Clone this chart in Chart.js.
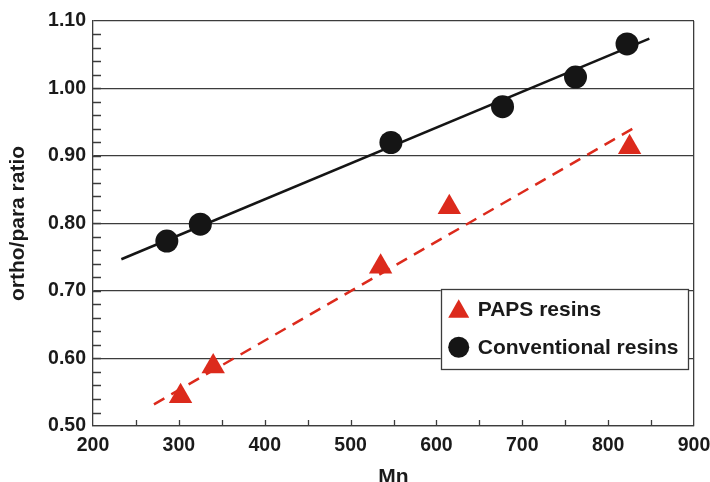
<!DOCTYPE html>
<html>
<head>
<meta charset="utf-8">
<script src="https://cdn.jsdelivr.net/npm/chart.js@4/dist/chart.umd.min.js"></script>
<style>
  html, body { margin: 0; padding: 0; background: #fff; }
  #wrap { width: 710px; height: 482px; }
</style>
</head>
<body>
<div id="wrap"><canvas id="ratioChart"></canvas></div>
<script>
// conventional resins (circles)
var convMn = [286, 325, 547, 677, 762, 822];
var convRatio = [0.774, 0.799, 0.920, 0.973, 1.017, 1.066];
// PAPS resins (triangles)
var papsMn = [302, 340, 535, 615, 825];
var papsRatio = [0.544, 0.588, 0.736, 0.824, 0.913];
// fitted lines, end points
var convFitMn = [233, 848];
var convFitRatio = [0.747, 1.074];
var papsFitMn = [271, 832];
var papsFitRatio = [0.532, 0.943];

var labels = ['PAPS resins', 'Conventional resins'];
var axisColor = '#3c3c3c';
var red = '#dc2a1c';
var black = '#151515';
var font = "'Liberation Sans', Arial, Helvetica, sans-serif";

function toPoints(xs, ys) {
  return xs.map(function (x, i) { return { x: x, y: ys[i] }; });
}

// small inward ticks on left and bottom axes
var innerTicks = {
  id: 'innerTicks',
  beforeDatasetsDraw: function (chart) {
    var ctx = chart.ctx, xs = chart.scales.x, ys = chart.scales.y;
    var a = chart.chartArea;
    ctx.save();
    ctx.strokeStyle = axisColor;
    ctx.lineWidth = 1.3;
    ctx.beginPath();
    for (var v = 0.52; v < 1.1; v += 0.02) {
      var py = Math.round(ys.getPixelForValue(v)) + 0.5;
      ctx.moveTo(a.left, py);
      ctx.lineTo(a.left + 8, py);
    }
    for (var m = 250; m < 900; m += 50) {
      var px = Math.round(xs.getPixelForValue(m)) + 0.5;
      ctx.moveTo(px, a.bottom);
      ctx.lineTo(px, a.bottom - 6);
    }
    ctx.stroke();
    ctx.restore();
  }
};

// legend box sitting inside the plot
var boxLegend = {
  id: 'boxLegend',
  afterDraw: function (chart) {
    var ctx = chart.ctx, xs = chart.scales.x, ys = chart.scales.y;
    var left = xs.getPixelForValue(605), right = xs.getPixelForValue(893);
    var top = ys.getPixelForValue(0.703), bottom = ys.getPixelForValue(0.5844);
    ctx.save();
    ctx.fillStyle = '#fff';
    ctx.fillRect(left, top, right - left, bottom - top);
    ctx.strokeStyle = axisColor;
    ctx.lineWidth = 1.3;
    ctx.strokeRect(Math.round(left) + 0.5, Math.round(top) + 0.5, Math.round(right - left), Math.round(bottom - top));

    var mx = left + 18;
    var y1 = top + 20.7, y2 = top + 58.3;
    // triangle
    ctx.fillStyle = red;
    ctx.beginPath();
    ctx.moveTo(mx, y1 - 10.5);
    ctx.lineTo(mx + 10.5, y1 + 8);
    ctx.lineTo(mx - 10.5, y1 + 8);
    ctx.closePath();
    ctx.fill();
    // circle
    ctx.fillStyle = black;
    ctx.beginPath();
    ctx.arc(mx, y2, 10.5, 0, Math.PI * 2);
    ctx.fill();

    ctx.fillStyle = '#1a1a1a';
    ctx.font = 'bold 21px ' + font;
    ctx.textBaseline = 'middle';
    ctx.textAlign = 'left';
    ctx.fillText(labels[0], left + 37, y1 + 1);
    ctx.fillText(labels[1], left + 37, y2 + 1);
    ctx.restore();
  }
};

var chart = new Chart(document.getElementById('ratioChart'), {
  type: 'scatter',
  data: {
    datasets: [
      {
        label: 'conv fit',
        data: toPoints(convFitMn, convFitRatio),
        showLine: true,
        borderColor: black,
        borderWidth: 2.5,
        pointRadius: 0,
        order: 4
      },
      {
        label: 'paps fit',
        data: toPoints(papsFitMn, papsFitRatio),
        showLine: true,
        borderColor: red,
        borderWidth: 2.5,
        borderDash: [12, 8],
        pointRadius: 0,
        order: 3
      },
      {
        label: labels[1],
        data: toPoints(convMn, convRatio),
        pointStyle: 'circle',
        pointRadius: 11.5,
        backgroundColor: black,
        borderColor: black,
        borderWidth: 0,
        order: 2
      },
      {
        label: labels[0],
        data: toPoints(papsMn, papsRatio),
        pointStyle: 'triangle',
        pointRadius: 13.5,
        backgroundColor: red,
        borderColor: red,
        borderWidth: 0,
        order: 1
      }
    ]
  },
  options: {
    responsive: true,
    maintainAspectRatio: false,
    animation: false,
    events: [],
    layout: { padding: { top: 21, right: 16, bottom: 0, left: 0 } },
    plugins: {
      legend: { display: false },
      tooltip: { enabled: false }
    },
    scales: {
      x: {
        type: 'linear',
        min: 200,
        max: 900,
        afterFit: function (s) {
          s.height = 56;
          s.paddingLeft = 0;
          s.paddingRight = 0;
        },
        ticks: {
          stepSize: 100,
          padding: 8,
          color: '#1a1a1a',
          font: { family: font, size: 19.5, weight: 'bold' }
        },
        grid: {
          drawTicks: false,
          color: function (c) { return c.tick && c.tick.value === 900 ? axisColor : 'rgba(0,0,0,0)'; },
          lineWidth: 1.3
        },
        border: { display: true, color: axisColor, width: 1.3 },
        title: {
          display: true,
          text: 'Mn',
          color: '#1a1a1a',
          font: { family: font, size: 21, weight: 'bold', lineHeight: 0.5 },
          padding: 0
        }
      },
      y: {
        type: 'linear',
        min: 0.5,
        max: 1.1,
        afterFit: function (s) { s.width = 93; },
        ticks: {
          stepSize: 0.1,
          padding: 7,
          color: '#1a1a1a',
          font: { family: font, size: 19.5, weight: 'bold' },
          callback: function (v) { return v.toFixed(2); }
        },
        grid: {
          drawTicks: false,
          color: axisColor,
          lineWidth: 1.3
        },
        border: { display: true, color: axisColor, width: 1.3 },
        title: {
          display: true,
          text: 'ortho/para ratio',
          color: '#1a1a1a',
          font: { family: font, size: 21, weight: 'bold' },
          padding: { top: 6, bottom: 0 }
        }
      }
    }
  },
  plugins: [innerTicks, boxLegend]
});
</script>
</body>
</html>
